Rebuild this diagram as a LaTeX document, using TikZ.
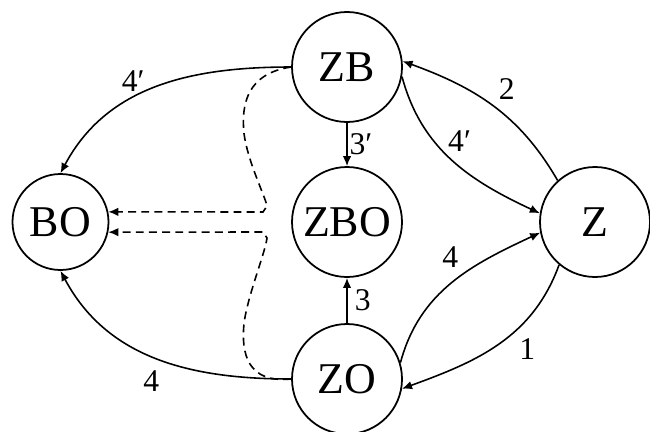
\documentclass[tikz,border=0pt]{standalone}
\usepackage{fontspec}
\setmainfont{Liberation Serif}
\usepackage{tikz}
\usetikzlibrary{arrows.meta,positioning,calc}

\begin{document}
\begin{tikzpicture}[
    >={Latex[length=2mm,width=1.7mm]},
    state/.style={
        circle,
        draw,
        line width=1pt,
        minimum size=2.2cm,
        inner sep=0pt,
        font=\fontsize{25}{28}\selectfont
    },
    smallstate/.style={state, minimum size=1.92cm},
    lbl/.style={font=\fontsize{18}{20}\selectfont, inner sep=3pt},
    wire/.style={->, line width=0.9pt},
    dashwire/.style={->, line width=0.9pt, dash pattern=on 4.5pt off 3pt}
]
\useasboundingbox (0,0) rectangle (13,8.62);

% ---------------------------------------------------------------- States
\node[smallstate] (BO)  at (1.21, 4.18) {BO};
\node[state]      (ZB)  at (6.94, 7.28) {ZB};
\node[state]      (ZBO) at (6.94, 4.18) {ZBO};
\node[state]      (ZO)  at (6.94, 1.04) {ZO};
\node[state]      (Z)   at (11.9, 4.18) {Z};

% ---------------------------------------------------------------- Transitions
% left side, into BO
\draw[wire] (ZB.west) to[out=180, in=62]  node[lbl, pos=0.6, above]  {4′} (BO.north);
\draw[wire] (ZO.west) to[out=180, in=-62] node[lbl, pos=0.52, below=5pt] {4}  (BO.south);

% middle column
\draw[wire] (ZB.south) -- node[lbl, right, inner sep=1pt] {3′} (ZBO.north);
\draw[wire] (ZO.north) -- node[lbl, right, inner sep=4pt] {3}  (ZBO.south);

% right side, around Z
\draw[wire] (Z.132)  to[out=120, in=-20] node[lbl, pos=0.5, above right] {2}  (ZB.6);
\draw[wire] (ZB.-10) to[out=-75, in=155] node[lbl, pos=0.45, above right, inner sep=1pt] {4′} (Z.171);
\draw[wire] (ZO.17)  to[out=75,  in=205] node[lbl, pos=0.58, above left] {4}  (Z.191);
\draw[wire] (Z.230)  to[out=250, in=20]  node[lbl, pos=0.4, below right] {1}  (ZO.-10);

% ---------------------------------------------------------------- Dashed links
\draw[dashwire] (ZB.west) .. controls (4.95,7.15) and (4.82,6.55) .. (4.88,5.95)
                .. controls (4.95,5.4) and (5.3,4.7) .. (5.34,4.5)
                -- (5.26,4.38) -- (BO.12);
\draw[dashwire] (ZO.west) .. controls (4.95,0.95) and (4.82,1.55) .. (4.88,2.15)
                .. controls (4.95,2.7) and (5.3,3.55) .. (5.34,3.86)
                -- (5.26,3.98) -- (BO.-12);

\end{tikzpicture}
\end{document}
